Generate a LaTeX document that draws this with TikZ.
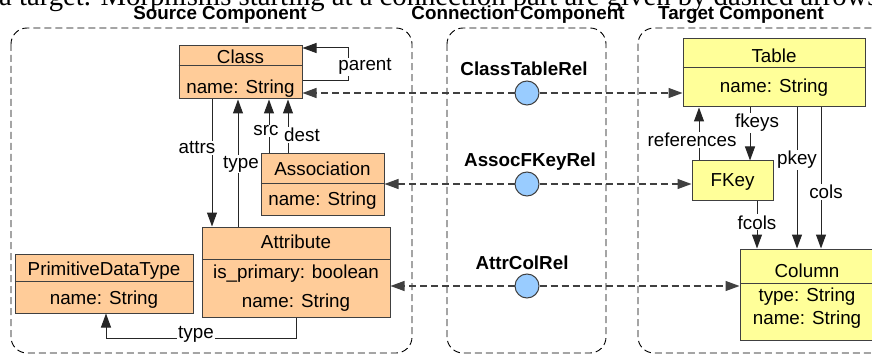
\documentclass[tikz,border=0pt]{standalone}
\usepackage{fontspec}
\setmainfont{Liberation Sans}
\newfontfamily\seriffont{Liberation Serif}
\usetikzlibrary{arrows.meta}
\definecolor{peach}{HTML}{FFCC99}
\definecolor{lyellow}{HTML}{FFFF99}
\definecolor{lblue}{HTML}{99CCFF}
\definecolor{bord}{HTML}{404040}
\definecolor{dline}{HTML}{404040}
\begin{document}
\begin{tikzpicture}[x=1pt,y=-1pt,
 srcbox/.style={draw=bord, fill=peach, line width=1pt, inner sep=0pt, rectangle},
 tgtbox/.style={draw=bord, fill=lyellow, line width=1pt, inner sep=0pt, rectangle},
 divider/.style={draw=bord, line width=1pt},
 txt/.style={font=\fontsize{18.8}{22}\selectfont, inner sep=0pt, anchor=base},
 bold/.style={txt, font=\fontsize{18.8}{22}\selectfont\bfseries},
 lbl/.style={txt, fill=white, inner sep=1pt},
 container/.style={draw=black, line width=0.9pt, dash pattern=on 7pt off 4pt, rounded corners=16pt},
 arr/.style={-{Triangle[length=14pt,width=10pt]}, line width=1pt, draw=black!85},
 darr/.style={arr, dash pattern=on 7pt off 4pt, draw=dline, line width=1.2pt},
 relc/.style={circle, draw=bord, fill=lblue, minimum size=24pt, inner sep=0pt, line width=1pt},
]
\useasboundingbox (0,0) rectangle (872,358);
\clip (0,0) rectangle (872,358);

% caption line (cut at top)
\node[anchor=base west, inner sep=0pt, font=\seriffont\fontsize{28.7}{33}\selectfont] (caption) at (-1,6) {a target. Morphisms starting at a connection part are given by dashed arrows};

% headings
\node[bold] (hsrc) at (220,20) {Source Component};
\node[bold] (hcon) at (518,20) {Connection Component};
\node[bold] (htgt) at (741,20) {Target Component};

% containers
\draw[container] (11,28) rectangle (412,353);
\draw[container] (447,28) rectangle (606,353);
\draw[container] (638,28) rectangle (888,353);

% source boxes
\node[srcbox, minimum width=123pt, minimum height=53pt] (class) at (240.5,72.5) {};
\draw[divider] (class.west |- 0,66) -- (class.east |- 0,66);
\node[txt] (classT) at (240.5,64) {Class};
\node[txt] (classA) at (240.5,94) {name: String};

\node[srcbox, minimum width=123pt, minimum height=61pt] (assoc) at (322.5,184.5) {};
\draw[divider] (assoc.west |- 0,184) -- (assoc.east |- 0,184);
\node[txt] (assocT) at (322.5,176) {Association};
\node[txt] (assocA) at (322.5,205) {name: String};

\node[srcbox, minimum width=188pt, minimum height=90pt] (attr) at (296,272) {};
\draw[divider] (attr.west |- 0,259) -- (attr.east |- 0,259);
\node[txt] (attrT) at (296,248) {Attribute};
\node[txt] (attrA) at (296,278) {is\_primary: boolean};
\node[txt] (attrB) at (296,307) {name: String};

\node[srcbox, minimum width=178pt, minimum height=59pt] (pdt) at (104,283.5) {};
\draw[divider] (pdt.west |- 0,281) -- (pdt.east |- 0,281);
\node[txt] (pdtT) at (104,275) {PrimitiveDataType};
\node[txt] (pdtA) at (104,304) {name: String};

% target boxes
\node[tgtbox, minimum width=182pt, minimum height=68pt] (table) at (774,73) {};
\draw[divider] (table.west |- 0,68) -- (table.east |- 0,68);
\node[txt] (tableT) at (774,63) {Table};
\node[txt] (tableA) at (774,93) {name: String};

\node[tgtbox, minimum width=81pt, minimum height=39pt] (fkey) at (732.5,180.5) {};
\node[txt] (fkeyT) at (732.5,186) {FKey};

\node[tgtbox, minimum width=134pt, minimum height=91pt] (column) at (807,294.5) {};
\draw[divider] (column.west |- 0,283) -- (column.east |- 0,283);
\node[txt] (columnT) at (807,277) {Column};
\node[txt] (columnA) at (807,301) {type: String};
\node[txt] (columnB) at (807,324) {name: String};

% connection circles
\node[relc] (c1) at (527,93) {};
\node[relc] (c2) at (527,184) {};
\node[relc] (c3) at (527,286) {};
\node[bold] (c1l) at (524,76) {ClassTableRel};
\node[bold] (c2l) at (530,167) {AssocFKeyRel};
\node[bold] (c3l) at (522,269) {AttrColRel};

% dashed morphisms
\draw[darr] (c1.west) -- (class.east |- c1);
\draw[darr] (c1.east) -- (table.west |- c1);
\draw[darr] (c2.west) -- (assoc.east |- c2);
\draw[darr] (c2.east) -- (fkey.west |- c2);
\draw[darr] (c3.west) -- (attr.east |- c3);
\draw[darr] (c3.east) -- (column.west |- c3);

% source associations
\draw[arr] ([yshift=-8.5pt]class.east) -- ++(46,0) |- ([yshift=24.5pt]class.east);
\draw[arr] ([xshift=-28.5pt]class.south) -- ([xshift=-84pt]attr.north);
\draw[arr] ([xshift=-58pt]attr.north) -- ([xshift=-2.5pt]class.south);
\draw[arr] ([xshift=-53.5pt]assoc.north) -- ([xshift=28.5pt]class.south);
\draw[arr] ([xshift=-34.5pt]assoc.north) -- ([xshift=47.5pt]class.south);
\draw[arr] (attr.south) -- ++(0,21) -| ([xshift=2pt]pdt.south);

\node[lbl] (lparent) at (365,71) {parent};
\node[lbl] (lattrs) at (197,154) {attrs};
\node[lbl] (ltype) at (241,168) {type};
\node[lbl] (lsrc) at (266,136) {src};
\node[lbl] (ldest) at (302,142) {dest};
\node[lbl] (ltype2) at (196,338) {type};

% target associations
\draw[arr] ([xshift=-33.5pt]fkey.north) -- ([xshift=-75pt]table.south);
\draw[arr] ([xshift=-24pt]table.south) -- ([xshift=17.5pt]fkey.north);
\draw[arr] ([xshift=23pt]table.south) -- ([xshift=-10pt]column.north);
\draw[arr] ([xshift=47pt]table.south) -- ([xshift=14pt]column.north);
\draw[arr] ([xshift=24.5pt]fkey.south) -- ([xshift=-50pt]column.north);

\node[lbl] (lref) at (692,147) {references};
\node[lbl] (lfkeys) at (757,128) {fkeys};
\node[lbl] (lpkey) at (797,165) {pkey};
\node[lbl] (lcols) at (826,199) {cols};
\node[lbl] (lfcols) at (757,229) {fcols};
\end{tikzpicture}
\end{document}
